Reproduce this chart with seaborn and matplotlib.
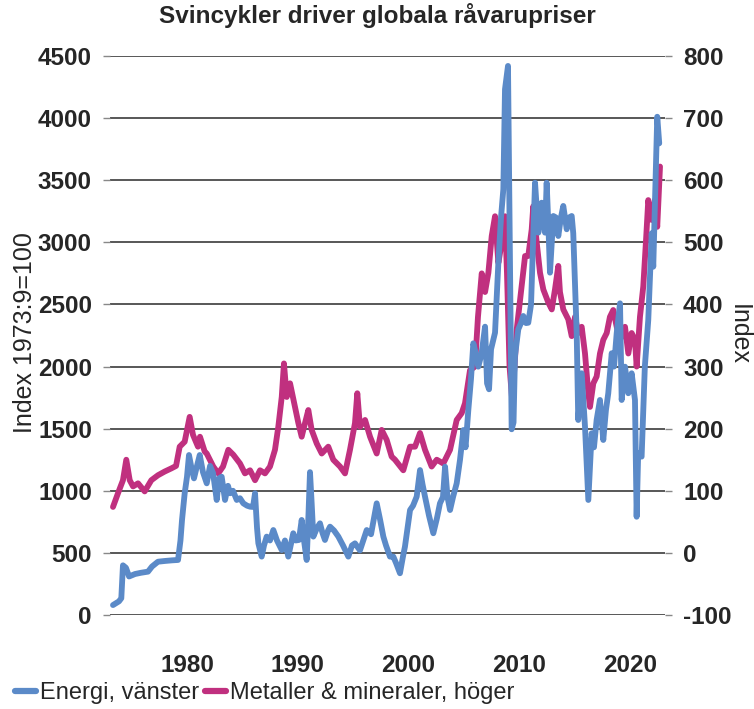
import matplotlib
matplotlib.use("Agg")
import matplotlib.pyplot as plt
import seaborn as sns
import pandas as pd
from matplotlib.lines import Line2D

# ---- data ----
energy_year = [1973.32, 1973.86, 1974.07, 1974.22, 1974.49, 1974.77, 1975.31, 1975.85, 1976.48, 1976.84,
               1977.38, 1978.01, 1978.65, 1979.19, 1979.41, 1979.55, 1979.79, 1980.00, 1980.18, 1980.41,
               1980.63, 1980.90, 1981.15, 1981.44, 1981.78, 1982.08, 1982.35, 1982.68, 1982.89, 1983.13,
               1983.43, 1983.70, 1983.88, 1984.15, 1984.49, 1984.78, 1985.08, 1985.42, 1985.69, 1985.96,
               1986.14, 1986.32, 1986.44, 1986.74, 1986.95, 1987.19, 1987.49, 1987.79, 1988.12, 1988.55,
               1988.84, 1989.14, 1989.59, 1989.80, 1990.10, 1990.35, 1990.56, 1990.80, 1990.96, 1991.10,
               1991.25, 1991.40, 1991.73, 1992.00, 1992.23, 1992.45, 1992.73, 1992.91, 1993.27, 1993.66,
               1994.08, 1994.56, 1994.89, 1995.16, 1995.61, 1996.22, 1996.61, 1996.88, 1997.12, 1997.42,
               1997.72, 1997.96, 1998.32, 1998.62, 1998.86, 1999.22, 1999.49, 1999.67, 2000.13, 2000.40,
               2000.73, 2001.03, 2001.26, 2001.48, 2001.84, 2002.23, 2002.56, 2002.83, 2003.10, 2003.29,
               2003.51, 2003.74, 2004.01, 2004.34, 2004.64, 2004.94, 2005.14, 2005.39, 2005.63, 2005.84,
               2006.08, 2006.29, 2006.58, 2006.90, 2007.08, 2007.26, 2007.44, 2007.80, 2008.10, 2008.34,
               2008.55, 2008.70, 2008.97, 2009.11, 2009.30, 2009.47, 2009.60, 2009.90, 2010.14, 2010.35,
               2010.60, 2010.80, 2011.05, 2011.23, 2011.41, 2011.71, 2012.01, 2012.31, 2012.46, 2012.63,
               2012.76, 2013.06, 2013.30, 2013.51, 2013.75, 2013.96, 2014.27, 2014.48, 2014.72, 2014.86,
               2015.17, 2015.31, 2015.62, 2015.92, 2016.22, 2016.52, 2016.73, 2016.97, 2017.27, 2017.57,
               2017.81, 2018.02, 2018.33, 2018.54, 2018.78, 2019.08, 2019.23, 2019.53, 2019.83, 2020.13,
               2020.43, 2020.58, 2020.72, 2021.03, 2021.32, 2021.63, 2021.94, 2022.08, 2022.32, 2022.44,
               2022.62]
energy_value = [80, 110, 135, 400, 380, 310, 330, 340, 349, 390,
                429, 435, 440, 443, 600, 765, 980, 1113, 1288, 1180,
                1100, 1200, 1288, 1150, 1060, 1200, 1143, 926, 1100, 1113,
                926, 1040, 980, 1000, 926, 940, 899, 880, 872, 870,
                980, 700, 577, 470, 560, 631, 600, 684, 600, 523,
                600, 470, 658, 600, 604, 765, 600, 443, 800, 1150,
                900, 631, 700, 738, 660, 604, 680, 711, 680, 631,
                560, 470, 560, 577, 520, 684, 650, 780, 899, 770,
                631, 560, 470, 470, 420, 336, 470, 550, 845, 880,
                953, 1167, 1050, 953, 800, 658, 780, 899, 950, 1194,
                950, 845, 950, 1060, 1250, 1489, 1350, 1650, 1900, 2187,
                2100, 1999, 2100, 2321, 1865, 1817, 2139, 2273, 2836, 3200,
                3427, 4232, 4420, 3200, 1495, 1550, 2085, 2300, 2350, 2407,
                2350, 2353, 2500, 3000, 3480, 3078, 3319, 3078, 3480, 3100,
                2756, 3212, 3200, 3051, 3200, 3293, 3105, 3200, 3212, 3073,
                2268, 1570, 1946, 1516, 926, 1463, 1350, 1570, 1731, 1409,
                1650, 1785, 2107, 2000, 2268, 2509, 1731, 1999, 1785, 1946,
                1731, 791, 1302, 1275, 1999, 2375, 3073, 2804, 3609, 4011,
                3797]

metal_year = [1973.32, 1973.77, 1974.22, 1974.52, 1974.83, 1975.13, 1975.58, 1976.18, 1976.78, 1977.38,
              1977.99, 1978.58, 1979.01, 1979.34, 1979.79, 1980.24, 1980.54, 1980.99, 1981.17, 1981.60,
              1981.78, 1982.37, 1982.82, 1983.25, 1983.73, 1984.18, 1984.78, 1985.23, 1985.69, 1986.14,
              1986.59, 1987.04, 1987.49, 1987.94, 1988.24, 1988.55, 1988.75, 1989.00, 1989.30, 1989.75,
              1990.05, 1990.35, 1990.65, 1990.95, 1991.25, 1991.71, 1992.16, 1992.75, 1993.20, 1993.81,
              1994.26, 1994.71, 1995.16, 1995.37, 1995.61, 1996.07, 1996.52, 1997.12, 1997.57, 1998.02,
              1998.47, 1998.77, 1999.52, 2000.13, 2000.58, 2001.03, 2001.48, 2002.08, 2002.54, 2003.13,
              2003.74, 2004.34, 2004.79, 2005.09, 2005.54, 2005.99, 2006.26, 2006.60, 2006.90, 2007.20,
              2007.50, 2007.80, 2008.10, 2008.40, 2008.70, 2008.88, 2009.11, 2009.33, 2009.56, 2009.76,
              2010.21, 2010.51, 2010.80, 2011.11, 2011.25, 2011.56, 2011.86, 2012.16, 2012.61, 2012.92,
              2013.21, 2013.51, 2013.66, 2013.96, 2014.41, 2014.72, 2015.02, 2015.31, 2015.62, 2015.92,
              2016.22, 2016.37, 2016.67, 2016.97, 2017.27, 2017.57, 2017.88, 2018.17, 2018.47, 2018.78,
              2019.08, 2019.53, 2019.83, 2020.13, 2020.43, 2020.58, 2020.88, 2021.18, 2021.43, 2021.63,
              2021.94, 2022.24, 2022.44, 2022.69]
metal_value = [74, 96, 117, 150, 117, 107, 112, 99, 117, 125,
               131, 136, 140, 171, 179, 219, 190, 171, 187, 163,
               160, 139, 128, 139, 166, 158, 144, 128, 133, 117,
               133, 128, 139, 166, 203, 251, 305, 251, 273, 235,
               209, 187, 209, 230, 198, 176, 160, 171, 150, 139,
               128, 166, 209, 257, 203, 214, 187, 160, 198, 182,
               155, 150, 133, 171, 171, 193, 166, 139, 150, 144,
               166, 214, 225, 241, 294, 300, 380, 450, 420, 451,
               510, 542, 467, 499, 542, 450, 300, 250, 300, 360,
               430, 478, 478, 521, 558, 500, 451, 424, 403, 392,
               424, 462, 420, 392, 376, 349, 380, 354, 364, 321,
               257, 235, 273, 284, 321, 343, 354, 380, 391, 364,
               343, 364, 321, 354, 343, 300, 380, 429, 504, 568,
               536, 568, 525, 622]

x_ticks = [1980, 1990, 2000, 2010, 2020]
left_ticks = [0, 500, 1000, 1500, 2000, 2500, 3000, 3500, 4000, 4500]
right_ticks = [-100, 0, 100, 200, 300, 400, 500, 600, 700, 800]

title = "Svincykler driver globala råvarupriser"
left_label = "Index 1973:9=100"
right_label = "Index"
energy_name = "Energi, vänster"
metal_name = "Metaller & mineraler, höger"

BLUE = "#5B8AC8"
PINK = "#C0307F"

sns.set_theme(style="white")
plt.rcParams["font.family"] = ["Liberation Sans", "DejaVu Sans"]
plt.rcParams["axes.unicode_minus"] = False

energy_df = pd.DataFrame({"year": energy_year, "value": energy_value})
metal_df = pd.DataFrame({"year": metal_year, "value": metal_value})

fig = plt.figure(figsize=(7.54, 7.09), dpi=100)
ax = fig.add_axes([110 / 754, 1 - 615 / 709, 555 / 754, 559 / 709])
ax2 = ax.twinx()

sns.lineplot(data=metal_df, x="year", y="value", ax=ax2, color=PINK, lw=4.2,
             estimator=None, sort=False)
sns.lineplot(data=energy_df, x="year", y="value", ax=ax, color=BLUE, lw=4.2,
             estimator=None, sort=False)

ax.set_zorder(ax2.get_zorder() + 1)
ax.patch.set_visible(False)

ax.set_xlim(1973.05, 2023.14)
ax.set_ylim(0, 4500)
ax2.set_ylim(-100, 800)

ax.set_yticks(left_ticks)
ax2.set_yticks(right_ticks)
ax.set_xticks(x_ticks)
ax.set_xticklabels([str(t) for t in x_ticks])

ax2.grid(axis="y", color="#2a2a2a", lw=1.1)
ax.grid(False)
ax2.grid(axis="x", visible=False)

for a in (ax, ax2):
    for s in a.spines.values():
        s.set_visible(False)

ax.tick_params(axis="y", length=5, width=1, color="#888888", pad=8,
               labelsize=17.5)
ax2.tick_params(axis="y", length=5, width=1, color="#888888", pad=8,
                labelsize=17.5)
ax.tick_params(axis="x", length=0, pad=28, labelsize=17.5)
for lab in ax.get_yticklabels() + ax.get_xticklabels() + ax2.get_yticklabels():
    lab.set_fontweight("bold")

ax.set_xlabel("")
ax.set_ylabel("")
ax2.set_ylabel("")
fig.text(25 / 754, 1 - 333 / 709, left_label, fontsize=18, rotation=90,
         ha="center", va="center")
fig.text(739 / 754, 1 - 335 / 709, right_label, fontsize=18, rotation=270,
         ha="center", va="center")

fig.suptitle(title, fontsize=17.5, fontweight="bold", x=377 / 754,
             y=1 - 16 / 709, va="center")

handles = [Line2D([], [], color=BLUE, lw=4.5), Line2D([], [], color=PINK, lw=4.5)]
fig.legend(handles, [energy_name, metal_name], loc="center left",
           bbox_to_anchor=(0.02, 1 - 693 / 709), ncol=2, frameon=False,
           fontsize=17, handlelength=0.9, handletextpad=0.15, columnspacing=0.25,
           borderaxespad=0, borderpad=0)

fig.savefig("out.png", dpi=100)
